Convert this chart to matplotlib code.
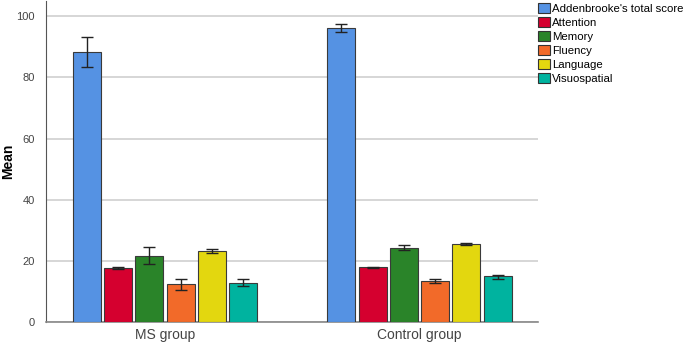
import matplotlib
matplotlib.use("Agg")
import matplotlib.pyplot as plt
import numpy as np

plt.rcParams["font.family"] = ["Liberation Sans", "DejaVu Sans"]

# data
groups = ["MS group", "Control group"]
measures = ["Addenbrooke's total score", "Attention", "Memory",
            "Fluency", "Language", "Visuospatial"]
ms_means = [88.3, 17.8, 21.7, 12.4, 23.2, 12.9]
ms_low = [83.5, 17.5, 19.1, 10.5, 22.5, 11.8]
ms_high = [93.2, 18.1, 24.4, 14.2, 24.0, 14.0]
ctrl_means = [96.3, 17.9, 24.3, 13.4, 25.6, 14.9]
ctrl_low = [95.0, 17.8, 23.4, 12.7, 25.2, 14.2]
ctrl_high = [97.6, 18.0, 25.1, 14.0, 25.9, 15.5]
colors = ["#5592e3", "#d5002f", "#2a8429", "#f26a29", "#e3d70f", "#00b39f"]

means = np.array([ms_means, ctrl_means])
lows = np.array([ms_low, ctrl_low])
highs = np.array([ms_high, ctrl_high])

fig = plt.figure(figsize=(6.85, 3.43), dpi=100)
ax = fig.add_axes([46 / 685, 21 / 343, 492 / 685, 321 / 343])

x = np.arange(len(groups))
step = 0.123
width = 0.11
for i, (name, c) in enumerate(zip(measures, colors)):
    pos = x + (i - 2.5) * step
    m = means[:, i]
    yerr = [m - lows[:, i], highs[:, i] - m]
    ax.bar(pos, m, width, color=c, edgecolor="#3a3a3a", linewidth=0.8,
           label=name, zorder=3)
    ax.errorbar(pos, m, yerr=yerr, fmt="none", ecolor="#222222",
                elinewidth=1.0, capsize=4, capthick=1.0, zorder=4)

ax.set_xlim(-0.468, 1.466)
ax.set_ylim(0, 105)
ax.set_yticks([0, 20, 40, 60, 80, 100])
ax.set_xticks(x)
ax.set_xticklabels(groups, fontsize=10, color="#444444")
ax.tick_params(axis="y", labelsize=8, colors="#444444", length=0, pad=8)
ax.tick_params(axis="x", length=0, pad=4)
ax.yaxis.grid(True, color="#d6d6d6", linewidth=1.4, zorder=0)
ax.set_axisbelow(True)
for s in ["top", "right"]:
    ax.spines[s].set_visible(False)
ax.spines["left"].set_color("#555555")
ax.spines["bottom"].set_color("#888888")
ax.spines["bottom"].set_linewidth(1.2)
ax.set_ylabel("Mean", fontsize=10, fontweight="bold")
ax.yaxis.set_label_coords(-0.063, 0.5)

leg = ax.legend(loc="upper left", bbox_to_anchor=(1.0, 0.995), frameon=False,
                fontsize=8.2, handlelength=1.05, handleheight=1.05,
                handletextpad=0.2, labelspacing=0.25, borderaxespad=0,
                borderpad=0.0)
for h in leg.legend_handles:
    h.set_edgecolor("#333333")

fig.savefig("out.png", dpi=100)
